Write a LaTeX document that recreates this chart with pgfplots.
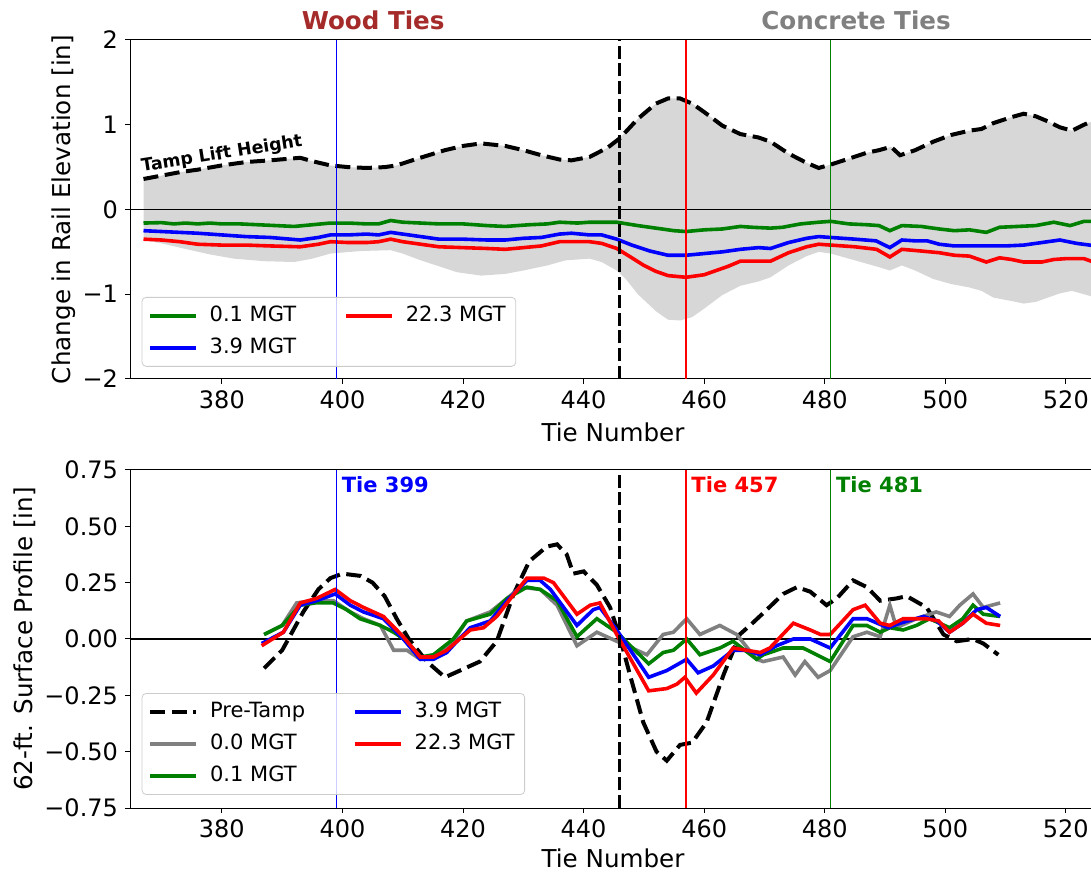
\documentclass[border=0pt]{standalone}
\usepackage{fontspec}
\setmainfont{DejaVu Sans}
\usepackage{pgfplots}
\usepackage{pgfplotstable}
\pgfplotsset{compat=1.18}
\usepgfplotslibrary{fillbetween}

\definecolor{mbrown}{RGB}{165,42,42}
\definecolor{mgray}{RGB}{128,128,128}
\definecolor{mgreen}{RGB}{0,128,0}
\definecolor{fillgray}{RGB}{215,215,215}
\definecolor{legedge}{RGB}{204,204,204}

% ---------- top panel: change in rail elevation ----------
\pgfplotstableread{
x y
367 0.36
370 0.40
373 0.44
376 0.47
380 0.52
384 0.56
388 0.58
393 0.61
395 0.57
398 0.52
401 0.50
404 0.49
407 0.50
409 0.52
412 0.59
417 0.70
420 0.75
423 0.78
427 0.75
430 0.70
433 0.64
436 0.59
438 0.58
441 0.62
444 0.73
446 0.84
449 1.07
452 1.25
454 1.31
456 1.31
458 1.25
460 1.15
463 0.99
466 0.89
469 0.85
471 0.80
474 0.66
477 0.55
479 0.49
481 0.53
484 0.60
487 0.67
489 0.70
491 0.74
492.5 0.64
495 0.70
498 0.80
501 0.88
504 0.93
506 0.95
508 1.02
511 1.09
513 1.13
515 1.10
517 1.04
519 0.97
521 0.93
523 1.00
525 1.06
}\liftup

\pgfplotstableread{
x y
367 -0.36
370 -0.40
373 -0.45
378 -0.53
382 -0.58
387 -0.61
392 -0.62
395 -0.58
398 -0.52
403 -0.49
408 -0.48
410 -0.52
413 -0.60
416 -0.67
419 -0.74
423 -0.78
427 -0.76
430 -0.72
434 -0.66
437 -0.60
441 -0.58
443 -0.62
445.5 -0.72
447 -0.82
449 -1.00
452 -1.20
454 -1.30
456 -1.31
458 -1.27
460 -1.17
463 -1.01
466 -0.90
469 -0.85
471 -0.80
474 -0.66
477 -0.55
479 -0.50
481 -0.52
484 -0.58
487 -0.64
489 -0.68
490.8 -0.72
492.8 -0.66
495 -0.72
498 -0.82
501 -0.88
504 -0.92
506 -0.96
508 -1.04
511 -1.08
513 -1.11
515 -1.09
517 -1.04
519 -0.99
521 -0.96
523 -1.00
525 -1.04
}\liftdown

\pgfplotstableread{
x y
367 -0.16
370 -0.155
372 -0.17
374 -0.16
376 -0.17
378 -0.16
380 -0.17
383 -0.17
386 -0.18
389 -0.19
392 -0.20
395 -0.18
398 -0.16
401 -0.16
404 -0.17
406 -0.17
408 -0.13
410 -0.15
413 -0.16
416 -0.17
420 -0.17
424 -0.19
427 -0.20
431 -0.18
434 -0.17
436 -0.15
439 -0.16
441 -0.15
445.5 -0.15
449 -0.19
452 -0.22
455 -0.25
457 -0.26
460 -0.24
463 -0.23
466 -0.20
468 -0.21
471 -0.22
473 -0.21
476 -0.17
479 -0.15
481 -0.14
484 -0.17
487 -0.18
489 -0.19
490.8 -0.25
492.8 -0.19
496 -0.20
499 -0.23
501.5 -0.25
504 -0.24
506.8 -0.27
509 -0.21
512 -0.20
515 -0.19
518 -0.15
520.7 -0.19
523 -0.14
525 -0.14
}\elevA

\pgfplotstableread{
x y
367 -0.25
370 -0.26
373 -0.27
376 -0.28
380 -0.30
384 -0.32
388 -0.33
393 -0.36
396 -0.33
398 -0.30
401 -0.30
404 -0.29
406 -0.30
408 -0.27
410 -0.29
413 -0.32
416 -0.35
420 -0.35
424 -0.36
427 -0.36
430 -0.34
433 -0.33
436 -0.29
438 -0.28
441 -0.30
443 -0.30
445.5 -0.35
448 -0.42
451 -0.49
454 -0.54
457 -0.54
460 -0.52
463 -0.50
466 -0.47
469 -0.45
471 -0.46
474 -0.39
477 -0.34
479 -0.32
481 -0.33
485 -0.35
488.5 -0.37
490.8 -0.45
492.8 -0.36
495 -0.37
497 -0.37
499 -0.41
501.5 -0.43
504 -0.43
507 -0.43
510 -0.43
513 -0.42
516 -0.39
519 -0.36
521.8 -0.40
525 -0.43
}\elevB

\pgfplotstableread{
x y
367 -0.35
370 -0.36
373 -0.38
376 -0.41
380 -0.42
384 -0.42
388 -0.43
393 -0.44
396 -0.41
398 -0.38
401 -0.39
404 -0.39
406 -0.38
408 -0.35
410 -0.38
413 -0.41
416 -0.44
420 -0.45
424 -0.46
427 -0.47
430 -0.45
433 -0.43
436 -0.38
438 -0.38
441 -0.38
443 -0.40
445.5 -0.46
448 -0.57
450 -0.66
452 -0.73
454 -0.78
457 -0.80
460 -0.77
462 -0.72
464 -0.67
466 -0.61
469 -0.61
471 -0.61
474 -0.51
477 -0.44
479 -0.41
481 -0.42
485 -0.44
488.6 -0.47
490.8 -0.56
492.8 -0.47
496 -0.49
499 -0.51
501.5 -0.54
504 -0.55
506.8 -0.62
509 -0.57
511 -0.59
513 -0.62
516 -0.62
518 -0.59
520 -0.58
523 -0.58
525 -0.63
}\elevC

% ---------- bottom panel: 62-ft surface profile ----------
\pgfplotstableread{
x y
387 -0.13
390 -0.05
393.5 0.12
396 0.22
398 0.27
400 0.29
403 0.28
405 0.25
407 0.19
409 0.09
411 0.00
414 -0.10
417 -0.17
419.5 -0.14
422.8 -0.10
425.6 -0.01
428.4 0.20
431 0.345
433.9 0.41
435.6 0.42
437.2 0.375
438.3 0.29
440 0.30
442.2 0.24
444.4 0.14
446.1 0.00
447.7 -0.16
449.9 -0.37
452.1 -0.50
453.8 -0.54
456 -0.47
458 -0.46
460.4 -0.37
463.2 -0.16
465.9 0.02
468 0.07
470 0.12
473.1 0.20
475.4 0.23
477.6 0.21
480.3 0.15
482 0.18
484.7 0.26
487 0.23
489.2 0.17
491.9 0.18
493.6 0.19
496.9 0.14
499.7 0.02
501.9 -0.01
504.6 0.00
506.3 -0.02
508.8 -0.07
}\profPre

\pgfplotstableread{
x y
387 0.02
390 0.06
392.4 0.16
395 0.17
398.5 0.17
401.3 0.12
403.5 0.09
406.3 0.06
408.5 -0.05
410.7 -0.05
412.9 -0.09
415.1 -0.08
416.5 -0.05
418.4 -0.01
420.6 0.08
424.5 0.12
427.3 0.18
429.5 0.23
432.8 0.22
435.6 0.15
438.9 -0.03
442.2 0.03
445.5 -0.01
450.5 -0.07
453.2 0.02
454.9 0.03
457.1 0.09
459.3 0.02
462.6 0.06
465.4 0.02
468.7 -0.09
469.8 -0.10
473.1 -0.08
475.1 -0.16
476.7 -0.10
478.9 -0.17
480.9 -0.14
484.7 0.01
487 0.03
489.2 0.01
490.8 0.15
491.9 0.05
495.2 0.09
498.5 0.12
500.7 0.10
502.4 0.15
504.6 0.20
506.3 0.14
509.1 0.16
}\profZero

\pgfplotstableread{
x y
387 0.02
390 0.06
393 0.15
395.5 0.16
398.5 0.16
400.7 0.13
402.9 0.09
406.3 0.06
408.5 0.03
410.7 -0.01
412.9 -0.08
415.1 -0.07
416.5 -0.04
418.4 0.00
420.6 0.08
424.5 0.11
427.3 0.18
430.6 0.23
432.8 0.22
435.6 0.17
438.9 0.01
442.2 0.09
445.5 0.03
450.8 -0.11
453.2 -0.06
454.9 -0.05
457.1 0.00
459.3 -0.07
462.6 -0.04
464.8 -0.01
468.7 -0.09
469.8 -0.07
473.1 -0.04
476.4 -0.04
480.9 -0.10
484.7 0.06
487 0.06
489.2 0.03
490.8 0.05
493 0.04
495.2 0.06
497.4 0.09
500.7 0.05
502.9 0.09
504.6 0.15
506.3 0.11
509.1 0.10
}\profA

\pgfplotstableread{
x y
386.6 -0.02
390.2 0.03
393 0.15
395.7 0.17
398.8 0.20
401.3 0.15
403.5 0.12
406.8 0.09
410.1 0.00
412.9 -0.09
415.1 -0.09
417.3 -0.06
419 -0.01
421.2 0.05
424.5 0.08
427.3 0.17
430.6 0.26
432.8 0.26
434.5 0.22
438.9 0.06
441.6 0.13
442.7 0.14
445.5 0.04
450.8 -0.17
453.8 -0.14
457.1 -0.09
459 -0.15
461.5 -0.12
464.8 -0.05
467 -0.05
469.3 -0.07
472 -0.03
474.8 0.00
477.6 0.00
480.9 -0.04
484.7 0.09
487 0.09
490.5 0.05
492.5 0.07
496.4 0.10
498.6 0.08
500.7 0.03
502.9 0.07
505.2 0.13
506.8 0.14
509.1 0.10
}\profB

\pgfplotstableread{
x y
386.6 -0.03
390.2 0.03
393 0.16
395.7 0.18
398.8 0.22
401.3 0.17
403.5 0.14
406.8 0.10
410.1 0.01
412.9 -0.08
415.1 -0.08
417.3 -0.05
419 -0.01
421.2 0.04
423.4 0.05
425.6 0.10
427.9 0.18
430.6 0.27
433.4 0.27
435 0.25
438.9 0.11
441.1 0.15
442.7 0.16
445.5 0.02
450.8 -0.23
453.8 -0.22
455.5 -0.20
456.8 -0.17
458.7 -0.24
461.5 -0.16
464.8 -0.04
467 -0.05
469.3 -0.06
470.9 -0.04
474.8 0.07
477.6 0.04
479.3 0.02
480.9 0.02
484.7 0.13
486.7 0.15
489.2 0.07
490.8 0.06
493 0.09
496.9 0.09
498.9 0.08
500.7 0.03
502.9 0.07
504.6 0.11
506.8 0.07
509.1 0.06
}\profC

\tikzset{axlabel/.style={font=\fontsize{12.3}{14}\selectfont}}

\pgfplotsset{
  panel/.style={
    scale only axis, width=483pt, height=169pt,
    xmin=364.76, xmax=525,
    xtick={380,400,420,440,460,480,500,520},
    xticklabels={380,400,420,440,460,480,500,520},
    tick align=outside, xtick pos=left, ytick pos=left,
    major tick length=2.5pt,
    tick style={black, line width=0.5pt},
    axis line style={line width=0.5pt},
    tick label style={font=\fontsize{12}{14}\selectfont},
    xlabel={Tie Number},
    clip mode=individual,
    legend columns=2,
    legend cell align=left,
    legend image code/.code={\draw[##1] (0pt,0pt) -- (23pt,0pt);},
    legend style={anchor=north west, draw=legedge, rounded corners=2pt,
      fill=white, fill opacity=0.8, text opacity=1,
      font=\fontsize{10.5}{12}\selectfont,
      inner xsep=3pt, inner ysep=2pt, row sep=1.5pt,
      nodes={inner sep=2pt, text height=8pt, text depth=2.5pt},
      /tikz/every odd column/.append style={column sep=4pt},
      /tikz/every even column/.append style={column sep=22pt}},
  },
  dataline/.style={line width=1.8pt},
  dashline/.style={black, line width=2pt, dash pattern=on 7.5pt off 3.3pt},
  vline/.style={line width=0.6pt},
  vdash/.style={black, line width=1.35pt, dash pattern=on 6.5pt off 2.4pt},
}

\begin{document}
\begin{tikzpicture}

% ---------- upper axis ----------
\begin{axis}[panel,
  at={(65pt,246.5pt)}, anchor=south west, height=169.5pt,
  ymin=-2, ymax=2,
  ytick={-2,-1,0,1,2}, yticklabels={−2,−1,0,1,2},
  ylabel={Change in Rail Elevation [in]},
  every axis y label/.style={axlabel, at={(axis description cs:-0.0683,0.5)}, rotate=90, anchor=center},
  every axis x label/.style={axlabel, at={(axis description cs:0.5,-0.156)}, anchor=center},
  legend style={at={(0.0121,0.242)}},
]
\addplot[name path=liftu, draw=none, forget plot] table[x=x,y=y] {\liftup};
\addplot[name path=liftd, draw=none, forget plot] table[x=x,y=y] {\liftdown};
\addplot[fillgray, forget plot] fill between[of=liftu and liftd];
\addplot[black, line width=0.6pt, forget plot] coordinates {(364.76,0) (525,0)};
\addplot[dashline, forget plot] table[x=x,y=y] {\liftup};
\addplot[mgreen, dataline, forget plot] table[x=x,y=y] {\elevA};
\addplot[blue, dataline, forget plot] table[x=x,y=y] {\elevB};
\addplot[red, dataline, forget plot] table[x=x,y=y] {\elevC};
\addplot[blue, vline, forget plot] coordinates {(399,-2) (399,2)};
\addplot[vdash, forget plot] coordinates {(446,-2) (446,2)};
\addplot[red, vline, forget plot] coordinates {(457,-2) (457,2)};
\addplot[mgreen, vline, forget plot] coordinates {(481,-2) (481,2)};

\addlegendimage{mgreen, dataline}\addlegendentry{0.1 MGT}
\addlegendimage{red, dataline}\addlegendentry{22.3 MGT}
\addlegendimage{blue, dataline}\addlegendentry{3.9 MGT}

\node[rotate=9, font=\bfseries\fontsize{8.7}{10}\selectfont] at (axis cs:380,0.65) {Tamp Lift Height};
\node[text=mbrown, font=\bfseries\fontsize{12.3}{14}\selectfont, yshift=10pt] at (axis cs:405.1,2) {Wood Ties};
\node[text=mgray, font=\bfseries\fontsize{12.3}{14}\selectfont, yshift=10pt] at (axis cs:485.2,2) {Concrete Ties};
\end{axis}

% ---------- lower axis ----------
\begin{axis}[panel,
  at={(65pt,32pt)}, anchor=south west,
  ymin=-0.75, ymax=0.75,
  ytick={-0.75,-0.5,-0.25,0,0.25,0.5,0.75},
  yticklabels={−0.75,−0.50,−0.25,0.00,0.25,0.50,0.75},
  ylabel={62-ft. Surface Profile [in]},
  every axis y label/.style={axlabel, at={(axis description cs:-0.1087,0.5)}, rotate=90, anchor=center},
  every axis x label/.style={axlabel, at={(axis description cs:0.5,-0.148)}, anchor=center},
  legend style={at={(0.0121,0.340)}},
]
\addplot[black, line width=0.6pt, forget plot] coordinates {(364.76,0) (525,0)};
\addplot[dashline, forget plot] table[x=x,y=y] {\profPre};
\addplot[mgray, dataline, forget plot] table[x=x,y=y] {\profZero};
\addplot[mgreen, dataline, forget plot] table[x=x,y=y] {\profA};
\addplot[blue, dataline, forget plot] table[x=x,y=y] {\profB};
\addplot[red, dataline, forget plot] table[x=x,y=y] {\profC};
\addplot[blue, vline, forget plot] coordinates {(399,-0.75) (399,0.75)};
\addplot[vdash, forget plot] coordinates {(446,-0.75) (446,0.75)};
\addplot[red, vline, forget plot] coordinates {(457,-0.75) (457,0.75)};
\addplot[mgreen, vline, forget plot] coordinates {(481,-0.75) (481,0.75)};

\addlegendimage{dashline}\addlegendentry{Pre-Tamp}
\addlegendimage{blue, dataline}\addlegendentry{3.9 MGT}
\addlegendimage{mgray, dataline}\addlegendentry{0.0 MGT}
\addlegendimage{red, dataline}\addlegendentry{22.3 MGT}
\addlegendimage{mgreen, dataline}\addlegendentry{0.1 MGT}

\node[anchor=west, inner sep=0pt, xshift=2.5pt, text=blue, font=\bfseries\fontsize{10.5}{12}\selectfont] at (axis cs:399,0.683) {Tie 399};
\node[anchor=west, inner sep=0pt, xshift=2.5pt, text=red, font=\bfseries\fontsize{10.5}{12}\selectfont] at (axis cs:457,0.683) {Tie 457};
\node[anchor=west, inner sep=0pt, xshift=2.5pt, text=mgreen, font=\bfseries\fontsize{10.5}{12}\selectfont] at (axis cs:481,0.683) {Tie 481};
\end{axis}

% the right spine lies just past the page edge
\pgfresetboundingbox
\useasboundingbox (0,0) rectangle (545.5pt,436pt);
\end{tikzpicture}
\end{document}
